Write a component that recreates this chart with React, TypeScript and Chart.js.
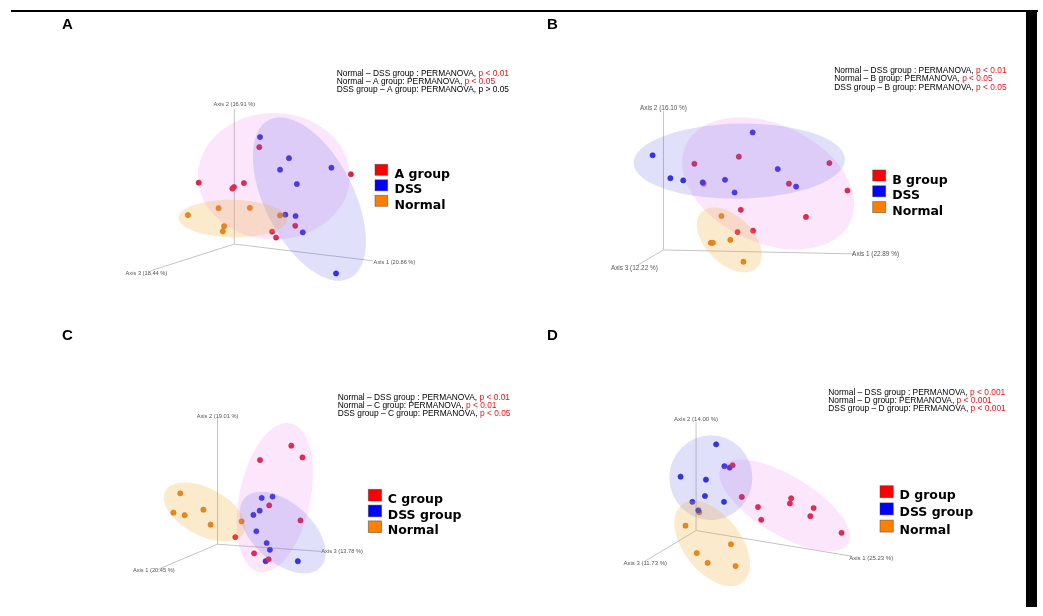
import React, { useEffect, useRef } from "react";
import { Chart, registerables } from "chart.js";

Chart.register(...registerables);

// ================= DATA (projected PCoA coordinates, origin = axes origin, y up) =================

// ---- Panel A ----
const panelA_group = [[25.3, 99], [-36, 62.7], [-0.3, 58.3], [-2, 56.7], [9.7, 62.3], [118, 71.3], [61.7, 18.7], [38.3, 12.7], [42.3, 6.7]];
const panelA_dss = [[26, 109.3], [55.3, 87.7], [46.3, 76], [98.3, 78], [63.3, 61.3], [51.7, 30], [62, 28.7], [69.3, 12], [103, -30]];
const panelA_normal = [[-47, 29.7], [-16, 36.7], [15.7, 37], [46.3, 29.3], [-10.3, 18.3], [-11.7, 13]];
// [cx, cy, semi-axis a, semi-axis b, rotation deg] for group, DSS, Normal
const panelA_ellipses = [[40, 69.3, 77, 64, 0], [76, 46, 90, 45, 63], [-1.5, 26, 55, 19, 1]];
const panelA_legend = ["A group", "DSS", "Normal"];
const panelA_axisLabels = ["Axis 2 (16.91 %)", "Axis 1 (20.86 %)", "Axis 3 (18.44 %)"];
const panelA_axisEnds = [[0, 138], [140, -17], [-84, -27]];
const panelA_comparisons = ["Normal – DSS group : PERMANOVA, ", "Normal – A group: PERMANOVA, ", "DSS group – A group: PERMANOVA, "];
const panelA_pValues = ["p < 0.01", "p < 0.05", "p > 0.05"];
const panelA_significant = [true, true, false];

// ---- Panel B ----
const panelB_group = [[31.3, 88], [76.3, 95.3], [168, 88.7], [127, 67.7], [186.3, 60.7], [78.3, 41], [144.3, 33.7], [75, 18.3], [90.7, 19.7]];
const panelB_dss = [[90.3, 120], [-11, 96.7], [7, 73.3], [20, 71], [39.7, 69], [62.3, 71.7], [72, 58.7], [115.7, 82.7], [134.3, 64.7]];
const panelB_normal = [[40.7, 67.7], [58.7, 34.7], [67.7, 10.3], [48, 7.3], [50, 7.3], [81, -12]];
const panelB_ellipses = [[106, 68, 92, 60, 25], [76.7, 90.7, 107, 38, -1], [66.7, 10.3, 40, 24, 45]];
const panelB_legend = ["B group", "DSS", "Normal"];
const panelB_axisLabels = ["Axis 2 (16.10 %)", "Axis 1 (22.89 %)", "Axis 3 (12.22 %)"];
const panelB_axisEnds = [[0, 142], [193, -4], [-27, -16]];
const panelB_comparisons = ["Normal – DSS group : PERMANOVA, ", "Normal – B group: PERMANOVA, ", "DSS group – B group: PERMANOVA, "];
const panelB_pValues = ["p < 0.01", "p < 0.05", "p < 0.05"];
const panelB_significant = [true, true, true];

// ---- Panel C ----
const panelC_group = [[74.7, 100.7], [86, 88.7], [43, 86], [52.3, 39.7], [84, 24.3], [18, 7.3], [37, -9.3], [51.7, -15.3]];
const panelC_dss = [[44.7, 47.3], [55.7, 48.7], [42.7, 34.3], [36.3, 30], [39.3, 13.3], [49.7, 1.3], [53, -5.7], [48.7, -17.3], [81.3, -17.3]];
const panelC_normal = [[-37.7, 52], [-44.7, 32.3], [-33.3, 29.7], [-14.3, 35.3], [-7, 20], [24.3, 23.3]];
const panelC_ellipses = [[58, 47.7, 77, 36, -78], [66, 12, 52, 30, 42], [-13.2, 33, 45, 24, 28]];
const panelC_legend = ["C group", "DSS group", "Normal"];
const panelC_axisLabels = ["Axis 2 (19.01 %)", "Axis 3 (13.78 %)", "Axis 1 (20.45 %)"];
const panelC_axisEnds = [[0, 129.3], [104.7, -7.3], [-60.3, -25.7]];
const panelC_comparisons = ["Normal – DSS group : PERMANOVA, ", "Normal – C group: PERMANOVA, ", "DSS group – C group: PERMANOVA, "];
const panelC_pValues = ["p < 0.01", "p < 0.01", "p < 0.05"];
const panelC_significant = [true, true, true];

// ---- Panel D ----
const panelD_group = [[37, 66.7], [46.3, 34.3], [62.7, 24], [96.3, 33], [95, 27.7], [119, 23], [66, 11], [115.7, 14.7], [147.3, -2.3]];
const panelD_dss = [[20.3, 88], [28.7, 65.7], [34, 64.3], [-15.7, 55], [10, 52], [9, 35.3], [-3.7, 29.3], [28.3, 29.3], [2.3, 20.7]];
const panelD_normal = [[3.3, 18.7], [-10.7, 5], [35.3, -14], [0.7, -23], [11.7, -33], [40, -36.3]];
const panelD_ellipses = [[89.8, 25.7, 75, 30, 31], [15, 54, 42, 43, 0], [16.3, -13.3, 50, 29, 52]];
const panelD_legend = ["D group", "DSS group", "Normal"];
const panelD_axisLabels = ["Axis 2 (14.00 %)", "Axis 1 (25.23 %)", "Axis 3 (11.73 %)"];
const panelD_axisEnds = [[0, 111], [158.3, -26.3], [-51.7, -31.3]];
const panelD_comparisons = ["Normal – DSS group : PERMANOVA, ", "Normal – D group: PERMANOVA, ", "DSS group – D group: PERMANOVA, "];
const panelD_pValues = ["p < 0.001", "p < 0.001", "p < 0.001"];
const panelD_significant = [true, true, true];

// ================= STYLE / LAYOUT =================
const PW = 521;
const PH = 308;
const POINT_COLORS = ["rgb(232,30,52)", "rgb(42,42,232)", "rgb(236,124,20)"];
const POINT_BORDERS = ["rgb(190,20,40)", "rgb(30,30,190)", "rgb(200,100,10)"];
const LEGEND_COLORS = ["#ff0000", "#0000ff", "#ff7f00"];
const ELLIPSE_FILLS = ["rgba(236,100,236,0.16)", "rgba(90,90,230,0.19)", "rgba(240,170,40,0.24)"];

const panels = [
  {
    letter: "A", left: 0, top: 0, originX: 234, originY: 246,
    groups: [panelA_group, panelA_dss, panelA_normal], ellipses: panelA_ellipses, legend: panelA_legend,
    axisLabels: panelA_axisLabels, axisEnds: panelA_axisEnds,
    comparisons: panelA_comparisons, pValues: panelA_pValues, significant: panelA_significant,
    letterX: 62, letterY: 28.5, statsX: 336.7, statsY: 73.3,
    legendX: 375, legendY: 164.3, legendStep: 15.5, sq: [12.7, 11],
    axisFont: 5.7, axisLabelPos: [[0, 142.5, "center"], [141, -19, "left"], [-89, -29.7, "center"]],
  },
  {
    letter: "B", left: 521, top: 0, originX: 662, originY: 252,
    groups: [panelB_group, panelB_dss, panelB_normal], ellipses: panelB_ellipses, legend: panelB_legend,
    axisLabels: panelB_axisLabels, axisEnds: panelB_axisEnds,
    comparisons: panelB_comparisons, pValues: panelB_pValues, significant: panelB_significant,
    letterX: 547, letterY: 28.5, statsX: 834.3, statsY: 70.7,
    legendX: 872.7, legendY: 170, legendStep: 15.8, sq: [13, 11],
    axisFont: 6.4, axisLabelPos: [[0, 145, "center"], [191, -4.5, "left"], [-29.5, -19, "center"]],
  },
  {
    letter: "C", left: 0, top: 308, originX: 217, originY: 546,
    groups: [panelC_group, panelC_dss, panelC_normal], ellipses: panelC_ellipses, legend: panelC_legend,
    axisLabels: panelC_axisLabels, axisEnds: panelC_axisEnds,
    comparisons: panelC_comparisons, pValues: panelC_pValues, significant: panelC_significant,
    letterX: 62, letterY: 339.5, statsX: 337.7, statsY: 397.3,
    legendX: 368.3, legendY: 489.3, legendStep: 15.8, sq: [13.3, 11.7],
    axisFont: 5.7, axisLabelPos: [[0, 131, "center"], [105, -7.5, "left"], [-64.5, -27, "center"]],
  },
  {
    letter: "D", left: 521, top: 308, originX: 695, originY: 532,
    groups: [panelD_group, panelD_dss, panelD_normal], ellipses: panelD_ellipses, legend: panelD_legend,
    axisLabels: panelD_axisLabels, axisEnds: panelD_axisEnds,
    comparisons: panelD_comparisons, pValues: panelD_pValues, significant: panelD_significant,
    letterX: 547, letterY: 339.5, statsX: 828.3, statsY: 392.3,
    legendX: 880, legendY: 485.7, legendStep: 17.2, sq: [13.3, 12],
    axisFont: 6, axisLabelPos: [[0, 113.5, "center"], [155, -28, "left"], [-51.5, -33, "center"]],
  },
];

type PanelCfg = (typeof panels)[number];

function makePlugin(p: PanelCfg) {
  return {
    id: "pcoa" + p.letter,
    beforeDatasetsDraw(chart: any) {
      const { ctx } = chart;
      const x = chart.scales.x;
      const y = chart.scales.y;
      const ox = x.getPixelForValue(0);
      const oy = y.getPixelForValue(0);
      ctx.save();
      ctx.strokeStyle = "rgb(196,196,196)";
      ctx.lineWidth = 1;
      p.axisEnds.forEach(([ex, ey]) => {
        ctx.beginPath();
        ctx.moveTo(ox, oy);
        ctx.lineTo(x.getPixelForValue(ex), y.getPixelForValue(ey));
        ctx.stroke();
      });
      ctx.fillStyle = "#555";
      ctx.font = `${p.axisFont}px "Liberation Sans", Arial, sans-serif`;
      ctx.textBaseline = "middle";
      p.axisLabels.forEach((t, i) => {
        const [lx, ly, al] = p.axisLabelPos[i] as [number, number, CanvasTextAlign];
        ctx.textAlign = al;
        ctx.fillText(t, x.getPixelForValue(lx), y.getPixelForValue(ly));
      });
      ctx.restore();
    },
    afterDatasetsDraw(chart: any) {
      const { ctx } = chart;
      const x = chart.scales.x;
      const y = chart.scales.y;
      ctx.save();
      // confidence ellipses
      p.ellipses.forEach(([cx, cy, a, b, rot], i) => {
        const px = x.getPixelForValue(cx);
        const py = y.getPixelForValue(cy);
        const ra = Math.abs(x.getPixelForValue(cx + a) - px);
        const rb = Math.abs(x.getPixelForValue(cx + b) - px);
        ctx.beginPath();
        ctx.ellipse(px, py, ra, rb, (rot * Math.PI) / 180, 0, Math.PI * 2);
        ctx.fillStyle = ELLIPSE_FILLS[i];
        ctx.fill();
      });
      // panel letter
      ctx.fillStyle = "#000";
      ctx.font = 'bold 15px "Liberation Sans", Arial, sans-serif';
      ctx.textAlign = "left";
      ctx.textBaseline = "alphabetic";
      ctx.fillText(p.letter, p.letterX - p.left, p.letterY - p.top);
      // PERMANOVA statistics
      ctx.font = '8.4px "Liberation Sans", Arial, sans-serif';
      ctx.textBaseline = "middle";
      p.comparisons.forEach((c, i) => {
        const tx = p.statsX - p.left;
        const ty = p.statsY - p.top + i * 8.35;
        ctx.fillStyle = "#000";
        ctx.fillText(c, tx, ty);
        const w = ctx.measureText(c).width;
        ctx.fillStyle = p.significant[i] ? "rgb(238,20,20)" : "#000";
        ctx.fillText(p.pValues[i], tx + w, ty);
      });
      // legend
      const ds = chart.data.datasets;
      ctx.font = 'bold 12.5px "DejaVu Sans", Verdana, sans-serif';
      ctx.textBaseline = "alphabetic";
      ds.forEach((d: any, i: number) => {
        const sx = p.legendX - p.left;
        const sy = p.legendY - p.top + i * p.legendStep;
        ctx.fillStyle = LEGEND_COLORS[i];
        ctx.fillRect(sx, sy, p.sq[0], p.sq[1]);
        ctx.strokeStyle = "rgba(60,60,60,0.55)";
        ctx.lineWidth = 0.8;
        ctx.strokeRect(sx, sy, p.sq[0], p.sq[1]);
        ctx.fillStyle = "#000";
        ctx.fillText(d.label, sx + 19.5, sy + 13.5);
      });
      ctx.restore();
    },
  };
}

function Panel({ p }: { p: PanelCfg }) {
  const ref = useRef<HTMLCanvasElement | null>(null);
  useEffect(() => {
    if (!ref.current) return;
    const chart = new Chart(ref.current, {
      type: "scatter",
      data: {
        datasets: p.groups.map((g, i) => ({
          label: p.legend[i],
          data: g.map(([vx, vy]) => ({ x: vx, y: vy })),
          backgroundColor: POINT_COLORS[i],
          borderColor: POINT_BORDERS[i],
          borderWidth: 0.6,
          pointRadius: 2.6,
          pointHoverRadius: 2.6,
        })),
      },
      options: {
        animation: false,
        responsive: false,
        maintainAspectRatio: false,
        events: [],
        layout: { padding: 0 },
        plugins: { legend: { display: false }, tooltip: { enabled: false }, title: { display: false } },
        scales: {
          x: { type: "linear", display: false, min: p.left - p.originX, max: p.left + PW - p.originX },
          y: { type: "linear", display: false, min: p.originY - (p.top + PH), max: p.originY - p.top },
        },
      },
      plugins: [makePlugin(p)],
    } as any);
    return () => chart.destroy();
  }, [p]);
  return (
    <canvas
      ref={ref}
      width={PW}
      height={PH}
      style={{ position: "absolute", left: p.left, top: p.top, width: PW, height: PH }}
    />
  );
}

export default function App() {
  return (
    <div style={{ position: "absolute", left: 0, top: 0, width: 1043, height: 616, background: "#fff", overflow: "hidden" }}>
      {panels.map((p) => (
        <Panel key={p.letter} p={p} />
      ))}
      <div style={{ position: "absolute", left: 11, top: 9.5, width: 1027, height: 2.5, background: "#000" }} />
      <div style={{ position: "absolute", left: 1026, top: 10, width: 11, height: 597, background: "#000" }} />
    </div>
  );
}
